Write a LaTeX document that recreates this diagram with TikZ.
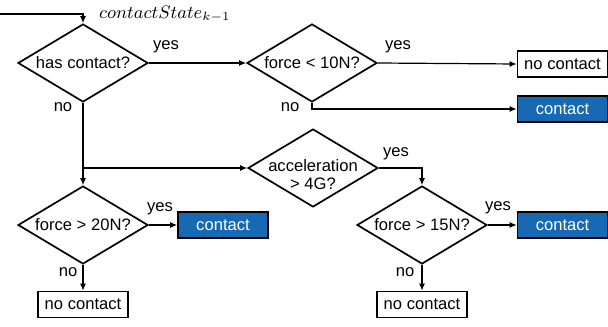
\documentclass[tikz,border=0pt]{standalone}
\usepackage{fontspec}
\setmainfont{Liberation Sans}
\usetikzlibrary{shapes.geometric, arrows.meta}
\definecolor{contactblue}{RGB}{23, 105, 180}
\tikzstyle{arrow} = [-{Latex[length=3.5pt, width=3pt]}, line width=0.6pt]
\tikzstyle{decision} = [diamond, aspect=1.67, inner sep=0pt, minimum width=65pt,
                        minimum height=39pt, draw, line width=0.85pt, align=center]
\tikzstyle{result} = [rectangle, minimum width=45pt, minimum height=13pt,
                      inner sep=0pt, draw, line width=0.85pt]
\tikzstyle{hit} = [result, fill=contactblue, text=white]

\begin{document}
\begin{tikzpicture}[x=0.5pt, y=-0.5pt, font=\fontsize{8.3}{10}\selectfont]
    \useasboundingbox (0,0) rectangle (608,326);

    % Decisions
    \node[decision] (contact) at (83,63) {has contact?};
    \node[decision] (lowforce) at (312,63) {force < 10N?};
    \node[decision] (accel) at (313,168)
        {\smash{\raisebox{-6pt}{\begin{tabular}{@{}c@{}}acceleration\\[-1pt]> 4G?\end{tabular}}}};
    \node[decision] (highforce) at (83,225) {force > 20N?};
    \node[decision] (midforce) at (422,225) {force > 15N?};

    % Outcomes
    \node[result] (release) at (562.5,64) {no contact};
    \node[hit] (keep) at (562.5,109) {contact};
    \node[hit] (press) at (223,225) {contact};
    \node[result] (idle) at (83,304.5) {no contact};
    \node[hit] (impact) at (562.5,225) {contact};
    \node[result] (calm) at (422,304.5) {no contact};

    % Previous state
    \coordinate (entry) at (0,14);
    \node[anchor=west, font=\fontsize{9}{10}\selectfont] (prev) at (92,14) {$contactState_{k-1}$};

    % Arrows
    \draw[arrow] (entry) -| (contact.north);
    \draw[arrow] (contact.east) -- (lowforce.west);
    \draw[arrow] (lowforce.east) -- (release.west);
    \draw[arrow] (lowforce.south) |- (keep.west);
    \draw[arrow] (contact.south) -- (highforce.north);
    \draw[arrow] (contact.south |- accel.west) -- (accel.west);
    \draw[arrow] (accel.east) -| (midforce.north);
    \draw[arrow] (highforce.east) -- (press.west);
    \draw[arrow] (highforce.south) -- (idle.north);
    \draw[arrow] (midforce.east) -- (impact.west);
    \draw[arrow] (midforce.south) -- (calm.north);

    % Branch labels
    \node (yes1) at (166,47) {yes};
    \node (no1) at (63,107) {no};
    \node (yes2) at (398,47) {yes};
    \node (no2) at (290,107) {no};
    \node (yes4) at (396,154) {yes};
    \node (yes3) at (160,209) {yes};
    \node (no3) at (68,272) {no};
    \node (yes5) at (498,208) {yes};
    \node (no5) at (405,272) {no};
\end{tikzpicture}
\end{document}
